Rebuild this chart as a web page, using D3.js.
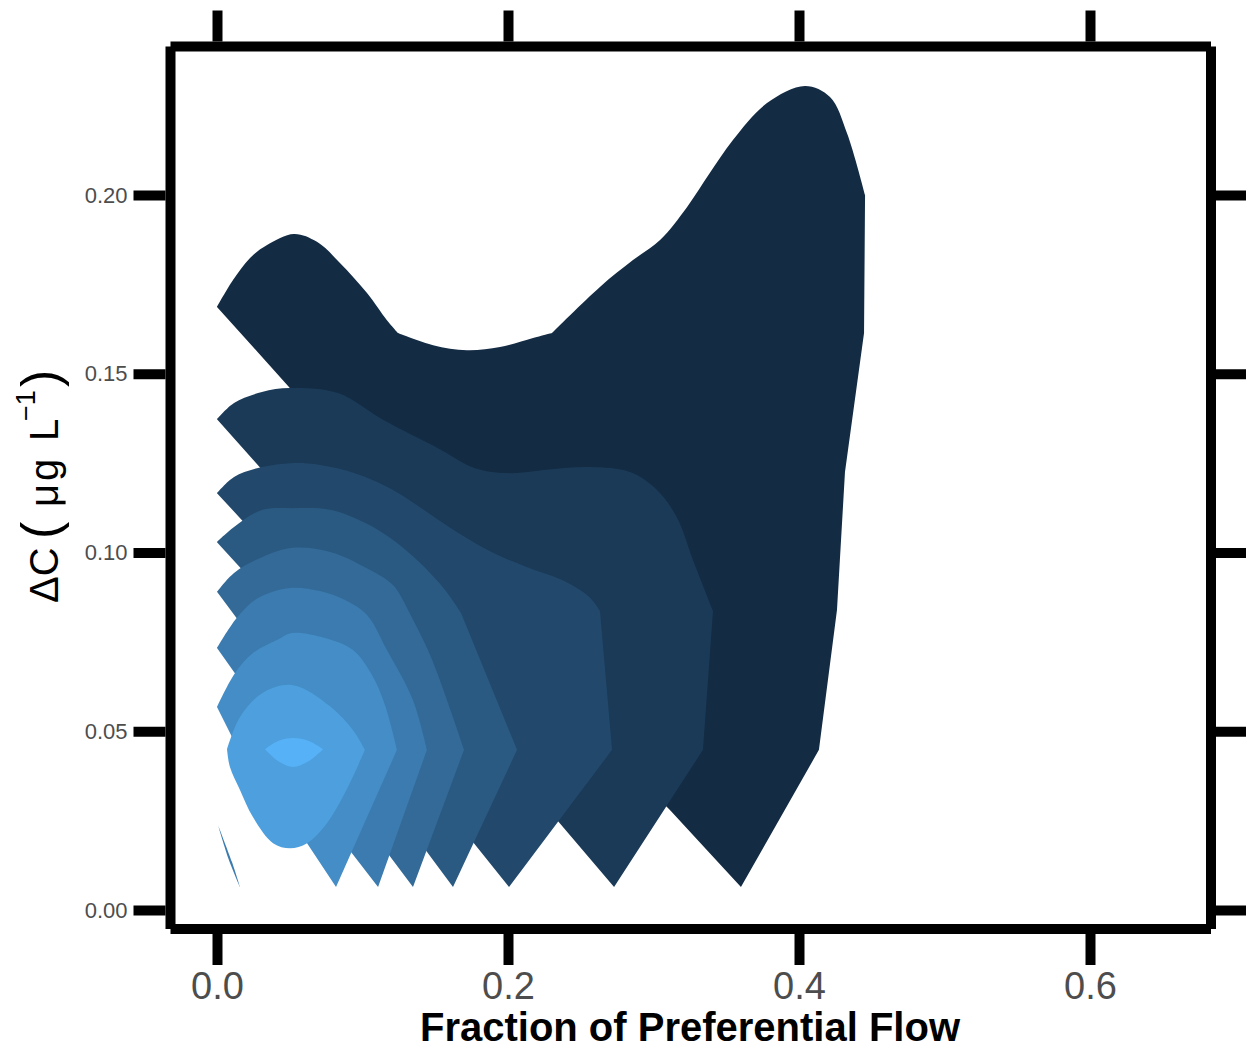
<!DOCTYPE html>
<html>
<head>
<meta charset="utf-8">
<script src="https://cdn.jsdelivr.net/npm/d3@7"></script>
<style>
  body { margin: 0; background: #ffffff; }
  svg { display: block; }
</style>
</head>
<body>
<svg id="chart" width="1248" height="1051"></svg>
<script>
// ---------------- DATA ----------------
// axis ticks
const xTicks = [0.0, 0.2, 0.4, 0.6];
const xTickLabels = ["0.0", "0.2", "0.4", "0.6"];
const yTicks = [0.00, 0.05, 0.10, 0.15, 0.20];
const yTickLabels = ["0.00", "0.05", "0.10", "0.15", "0.20"];

// filled density contour bands (outermost = lowest level), [x, y, kink?]
const band1 = [[0,0.1687,1],[0.0110,0.1762],[0.0227,0.1824],[0.0344,0.1860],[0.0529,0.1891],[0.0687,0.1869],[0.0845,0.1810],[0.1031,0.1726],[0.1168,0.1650],[0.1244,0.1614,1],[0.1485,0.1580],[0.1718,0.1566],[0.1945,0.1575],[0.2172,0.1600],[0.2302,0.1614,1],[0.2632,0.1743],[0.2859,0.1818],[0.3045,0.1874],[0.3230,0.1966],[0.3388,0.2062],[0.3546,0.2154],[0.3780,0.2257],[0.4041,0.2305],[0.4213,0.2274],[0.4330,0.2173],[0.4454,0.2000,1],[0.4447,0.1614,1],[0.4316,0.1225,1],[0.4261,0.0839,1],[0.4137,0.0448,1],[0.3601,0.0064,1],[0.3113,0.0280,1],[0.3010,0.0322,1],[0.0570,0.1429,1]];
const band2 = [[0,0.1373,1],[0.0117,0.1418],[0.0309,0.1449],[0.0502,0.1460],[0.0832,0.1446],[0.1141,0.1371],[0.1540,0.1287],[0.1773,0.1236],[0.2014,0.1222],[0.2247,0.1231],[0.2564,0.1239],[0.2838,0.1225],[0.3024,0.1175],[0.3162,0.1097],[0.3271,0.0979],[0.3409,0.0836,1],[0.3340,0.0448,1],[0.2729,0.0064,1],[0.2337,0.0252,1],[0.2234,0.0299,1],[0.0364,0.1206,1]];
const band3 = [[0,0.1166,1],[0.0117,0.1211],[0.0309,0.1239],[0.0509,0.1250],[0.0708,0.1245],[0.0948,0.1222],[0.1210,0.1175],[0.1423,0.1119],[0.1656,0.1055],[0.1897,0.0999],[0.2131,0.0959],[0.2371,0.0923],[0.2557,0.0876],[0.2632,0.0836,1],[0.2715,0.0448,1],[0.2007,0.0064,1],[0.1759,0.0190,1],[0.1691,0.0227,1],[0.0227,0.1066,1]];
const band4 = [[0,0.1029,1],[0.0117,0.1071],[0.0309,0.1119],[0.0522,0.1124],[0.0784,0.1119],[0.1017,0.1083],[0.1210,0.1035],[0.1395,0.0971],[0.1567,0.0895],[0.1677,0.0831,1],[0.2062,0.0448,1],[0.1622,0.0064,1],[0.1450,0.0159,1],[0.1395,0.0190,1],[0.0220,0.0931,1]];
const band5 = [[0,0.0890,1],[0.0117,0.0943],[0.0309,0.0987],[0.0522,0.1013],[0.0784,0.1001],[0.1017,0.0959],[0.1210,0.0909],[0.1313,0.0839,1],[0.1450,0.0727],[0.1581,0.0587],[0.1698,0.0448,1],[0.1347,0.0064,1],[0.1182,0.0154,1],[0.1141,0.0176,1],[0.0179,0.0792,1]];
const band6 = [[0,0.0733,1],[0.0076,0.0783],[0.0158,0.0828],[0.0282,0.0873],[0.0502,0.0901],[0.0708,0.0892],[0.0880,0.0867],[0.1031,0.0825],[0.1168,0.0727],[0.1347,0.0587],[0.1443,0.0448,1],[0.1107,0.0064,1],[0.0921,0.0162,1],[0.0887,0.0182,1],[0.0151,0.0646,1]];
const band7 = [[0,0.0568,1],[0.0124,0.0663],[0.0247,0.0719],[0.0412,0.0755],[0.0515,0.0775],[0.0742,0.0761],[0.0935,0.0727],[0.1065,0.0657],[0.1155,0.0573],[0.1237,0.0448,1],[0.0818,0.0064,1],[0.0619,0.0187,1],[0.0570,0.0218,1],[0.0110,0.0478,1]];
const band8 = [[0.0069,0.0450,1],[0.0158,0.0540],[0.0316,0.0608],[0.0522,0.0629],[0.0777,0.0570],[0.0935,0.0503],[0.1017,0.0448,1],[0.0900,0.0344],[0.0756,0.0243],[0.0619,0.0187],[0.0502,0.0173],[0.0385,0.0187],[0.0247,0.0260],[0.0158,0.0336],[0.0089,0.0400]];
const band9 = [[0.0330,0.0450,1],[0.0419,0.0473],[0.0522,0.0481],[0.0632,0.0473],[0.0729,0.0450,1],[0.0632,0.0417],[0.0522,0.0400],[0.0419,0.0417]];
const sliver = [[0.0007,0.0238,1],[0.0103,0.0134],[0.0158,0.0064,1],[0.0082,0.0140]];
const bands = [band1, band2, band3, band4, band5, band6, band7, band8, band9];
const sliverLevel = 5;

// ---------------- DRAW ----------------
const svg = d3.select("#chart");
const FONT = "'Liberation Sans', Arial, Helvetica, sans-serif";

const x = d3.scaleLinear().domain([0, 0.6]).range([217, 1090]);
const y = d3.scaleLinear().domain([0, 0.2]).range([910, 195]);
const color = d3.scaleSequential(d3.interpolateLab("#132B43", "#56B1F7")).domain([0, bands.length - 1]);

const seg = d3.line().x(d => x(d[0])).y(d => y(d[1])).curve(d3.curveCatmullRom.alpha(0.5));
function ringPath(ring) {
  const pts = ring.concat([ring[0]]);
  let d = "";
  let run = [pts[0]];
  for (let i = 1; i < pts.length; i++) {
    run.push(pts[i]);
    if (pts[i][2] === 1 || i === pts.length - 1) {
      const s = seg(run);
      d += d ? "L" + s.slice(1) : s;
      run = [pts[i]];
    }
  }
  return d + "Z";
}

const gBands = svg.append("g");
gBands.selectAll("path.band").data(bands).join("path")
  .attr("class", "band")
  .attr("d", d => ringPath(d))
  .attr("fill", (d, i) => color(i));
gBands.append("path").attr("d", ringPath(sliver)).attr("fill", color(sliverLevel));

// frame (four separate lines with butt caps)
const L = 170.5, R = 1211, T = 46.5, B = 929;
const frame = svg.append("g").attr("stroke", "#000").attr("stroke-width", 10).attr("stroke-linecap", "butt");
frame.append("line").attr("x1", L).attr("x2", R).attr("y1", T).attr("y2", T);
frame.append("line").attr("x1", L).attr("x2", R).attr("y1", B).attr("y2", B);
frame.append("line").attr("x1", L).attr("x2", L).attr("y1", T).attr("y2", B);
frame.append("line").attr("x1", R).attr("x2", R).attr("y1", T).attr("y2", B);

function styleAxis(g, fontSize) {
  g.select(".domain").remove();
  g.selectAll(".tick line").attr("stroke", "#000").attr("stroke-width", 10);
  g.selectAll(".tick text").attr("fill", "#4D4D4D").attr("font-family", FONT).attr("font-size", fontSize);
}

const axL = svg.append("g").attr("transform", "translate(165.5,0)")
  .call(d3.axisLeft(y).tickValues(yTicks).tickFormat((d, i) => yTickLabels[i]).tickSizeInner(32).tickSizeOuter(0).tickPadding(6));
styleAxis(axL, 22);

const axB = svg.append("g").attr("transform", "translate(0,934)")
  .call(d3.axisBottom(x).tickValues(xTicks).tickFormat((d, i) => xTickLabels[i]).tickSizeInner(31).tickSizeOuter(0).tickPadding(7));
styleAxis(axB, 38);

const axT = svg.append("g").attr("transform", "translate(0,41.5)")
  .call(d3.axisTop(x).tickValues(xTicks).tickFormat("").tickSizeInner(31).tickSizeOuter(0));
styleAxis(axT, 10);

const axR = svg.append("g").attr("transform", "translate(1216,0)")
  .call(d3.axisRight(y).tickValues(yTicks).tickFormat("").tickSizeInner(30).tickSizeOuter(0));
styleAxis(axR, 10);

// axis titles
svg.append("text")
  .attr("x", 690).attr("y", 1041)
  .attr("text-anchor", "middle")
  .attr("font-family", FONT).attr("font-weight", "bold").attr("font-size", 40)
  .attr("fill", "#000")
  .text("Fraction of Preferential Flow");

const yt = svg.append("text")
  .attr("transform", "translate(58,603) rotate(-90)")
  .attr("font-family", FONT).attr("font-size", 40).attr("fill", "#000");
yt.append("tspan").attr("x", 0).text("ΔC");
yt.append("tspan").attr("x", 64).attr("font-size", 52).text("(");
yt.append("tspan").attr("x", 96).text("μ");
yt.append("tspan").attr("x", 122).text("g");
yt.append("tspan").attr("x", 162).text("L");
yt.append("tspan").attr("x", 182).attr("dy", -23).attr("font-size", 27).text("−1");
yt.append("tspan").attr("x", 216).attr("dy", 23).attr("font-size", 52).text(")");
</script>
</body>
</html>
